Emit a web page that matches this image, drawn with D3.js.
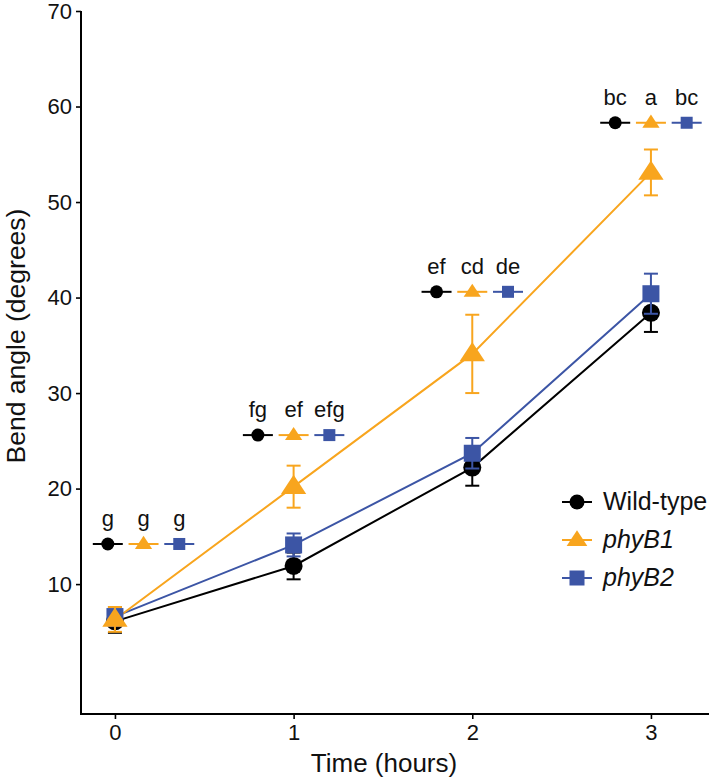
<!DOCTYPE html>
<html><head><meta charset="utf-8">
<script src="https://cdn.jsdelivr.net/npm/d3@7"></script>
<style>body{margin:0;background:#fff}svg{display:block;font-family:"Liberation Sans",Arial,sans-serif}</style>
</head><body><svg id="c" width="709" height="779"></svg>
<script>
const times = [0, 1, 2, 3];
const seriesNames = ["Wild-type", "phyB1", "phyB2"];
const wtMean = [6.1, 11.9, 22.2, 38.4];
const wtErr = [1.2, 1.4, 1.9, 2.0];
const b1Mean = [6.3, 20.2, 34.1, 53.1];
const b1Err = [1.3, 2.2, 4.1, 2.4];
const b2Mean = [6.6, 14.1, 23.7, 40.4];
const b2Err = [1.0, 1.2, 1.6, 2.1];
const sigCenter = [0.16, 1, 2, 3];
const sigY = [14.2, 25.6, 40.6, 58.3];
const wtLetters = ["g", "fg", "ef", "bc"];
const b1Letters = ["g", "ef", "cd", "a"];
const b2Letters = ["g", "efg", "de", "bc"];
const yTicks = [10, 20, 30, 40, 50, 60, 70];
const xTicks = [0, 1, 2, 3];

const colors = ["#000000", "#F8A51E", "#3C55A5"];
const shapes = ["circle", "triangle", "square"];
const series = [
  {name: seriesNames[0], mean: wtMean, err: wtErr, letters: wtLetters},
  {name: seriesNames[1], mean: b1Mean, err: b1Err, letters: b1Letters},
  {name: seriesNames[2], mean: b2Mean, err: b2Err, letters: b2Letters}
];

const svg = d3.select("#c");
const x = d3.scaleLinear().domain([-0.19, 3.325]).range([81, 709]);
const y = d3.scaleLinear().domain([-3.6, 70]).range([714, 11]);

function drawMarker(g, shape, cx, cy, s, color) {
  if (shape === "circle") {
    g.append("circle").attr("cx", cx).attr("cy", cy).attr("r", s).attr("fill", color);
  } else if (shape === "square") {
    g.append("rect").attr("x", cx - s).attr("y", cy - s).attr("width", 2*s).attr("height", 2*s).attr("fill", color);
  } else {
    const h = s * 1.75;
    g.append("path").attr("d", `M${cx},${cy - h*0.62}L${cx + s*1.15},${cy + h*0.38}L${cx - s*1.15},${cy + h*0.38}Z`).attr("fill", color);
  }
}

// axes
const yAxis = d3.axisLeft(y).tickValues(yTicks).tickSize(5).tickPadding(4).tickFormat(d3.format("d"));
const xAxis = d3.axisBottom(x).tickValues(xTicks).tickSize(5).tickPadding(5).tickFormat(d3.format("d"));
const gy = svg.append("g").attr("transform", "translate(81,0)").call(yAxis);
const gx = svg.append("g").attr("transform", "translate(0,714)").call(xAxis);
[gy, gx].forEach(g => {
  g.select(".domain").remove();
  g.selectAll(".tick line").attr("stroke", "#000").attr("stroke-width", 1.6);
  g.selectAll(".tick text").attr("fill", "#111").attr("font-size", 22).attr("font-family", "Liberation Sans, Arial, sans-serif");
});
svg.append("line").attr("x1", 81).attr("x2", 81).attr("y1", y(70)).attr("y2", 714).attr("stroke", "#000").attr("stroke-width", 2);
svg.append("line").attr("x1", 80).attr("x2", 709).attr("y1", 714).attr("y2", 714).attr("stroke", "#000").attr("stroke-width", 2);

svg.append("text").attr("transform", "translate(25,336) rotate(-90)").attr("text-anchor", "middle")
  .attr("font-size", 26.5).attr("fill", "#111").text("Bend angle (degrees)");
svg.append("text").attr("x", 384).attr("y", 772).attr("text-anchor", "middle")
  .attr("font-size", 26).attr("fill", "#111").text("Time (hours)");

// lines
const line = d3.line().x((d, i) => x(times[i])).y(d => y(d));
const order = [0, 2, 1];
order.forEach(si => {
  const s = series[si];
  svg.append("path").attr("d", line(s.mean)).attr("fill", "none").attr("stroke", colors[si]).attr("stroke-width", 2);
});
// error bars and points
order.forEach(si => {
  const s = series[si];
  const g = svg.append("g");
  s.mean.forEach((m, i) => {
    const cx = x(times[i]);
    g.append("line").attr("x1", cx).attr("x2", cx).attr("y1", y(m - s.err[i])).attr("y2", y(m + s.err[i])).attr("stroke", colors[si]).attr("stroke-width", 2);
    [m - s.err[i], m + s.err[i]].forEach(v => {
      g.append("line").attr("x1", cx - 7).attr("x2", cx + 7).attr("y1", y(v)).attr("y2", y(v)).attr("stroke", colors[si]).attr("stroke-width", 2);
    });
    drawMarker(g, shapes[si], cx, y(m), si === 0 ? 9 : (si === 1 ? 11 : 8.5), colors[si]);
  });
});

// significance groups
const spread = 0.2;
series.forEach((s, si) => {
  const g = svg.append("g");
  sigCenter.forEach((c, i) => {
    const cx = x(c + (si - 1) * spread);
    const cy = y(sigY[i]);
    g.append("line").attr("x1", cx - 15).attr("x2", cx + 15).attr("y1", cy).attr("y2", cy).attr("stroke", colors[si]).attr("stroke-width", 2);
    drawMarker(g, shapes[si], cx, cy, si === 0 ? 6.5 : (si === 1 ? 7.5 : 6), colors[si]);
    g.append("text").attr("x", cx).attr("y", cy - 18).attr("text-anchor", "middle").attr("font-size", 22).attr("fill", "#111").text(s.letters[i]);
  });
});

// legend
const legY = [502, 540, 578];
series.forEach((s, si) => {
  const g = svg.append("g");
  g.append("line").attr("x1", 562).attr("x2", 592).attr("y1", legY[si]).attr("y2", legY[si]).attr("stroke", colors[si]).attr("stroke-width", 2);
  drawMarker(g, shapes[si], 577, legY[si], si === 0 ? 7.5 : (si === 1 ? 9 : 7.5), colors[si]);
  g.append("text").attr("x", 603).attr("y", legY[si] + 8).attr("font-size", 25).attr("fill", "#111")
    .attr("font-style", si === 0 ? "normal" : "italic").text(s.name);
});
</script></body></html>
